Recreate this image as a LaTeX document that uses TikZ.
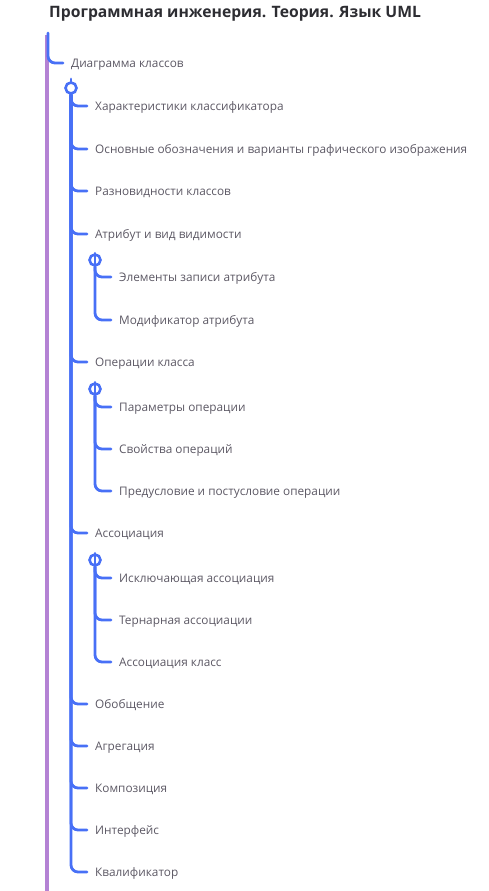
\documentclass[tikz,border=0pt]{standalone}
\usepackage{fontspec}
\setmainfont{Open Sans}
\definecolor{mblue}{RGB}{72,112,246}
\definecolor{mpurple}{RGB}{180,130,212}
\definecolor{mtext}{RGB}{92,88,100}
\definecolor{mtitle}{RGB}{45,45,50}
\begin{document}
\begin{tikzpicture}[x=1pt,y=-1pt,
  lbl/.style={anchor=west,inner sep=0pt,yshift=-1.5pt,font=\fontsize{11.8}{12}\selectfont,text=mtext},
  ttl/.style={anchor=west,inner sep=0pt,font=\fontsize{15.7}{16}\selectfont\bfseries,text=mtitle},
  branch/.style={draw=mblue,line width=2.8pt,rounded corners=7pt,line cap=round},
  knob/.style={circle,draw=mblue,line width=2.6pt,fill=white,minimum size=11pt,inner sep=0pt}]
\useasboundingbox (0,0) rectangle (488,891);
\node[ttl] (title) at (49,14) {Программная инженерия. Теория. Язык UML};
% purple bar
\coordinate (bartop) at (47,35);
\coordinate (barbot) at (47,891);
\draw[mpurple,line width=3.2pt] (bartop) -- (barbot);
% root
\coordinate (rtop) at (48,33);
\node[lbl] (root) at (71,63) {Диаграмма классов};
\draw[branch] (rtop) |- ([xshift=-8pt,yshift=1.5pt]root.west);
% level 1
\node[knob] (k0) at (71,88) {};
\coordinate (k0s) at (71,79);
\draw[branch] (k0s) -- (k0.north);
\node[lbl] (a1) at (95,106) {Характеристики классификатора};
\node[lbl] (a2) at (95,149) {Основные обозначения и варианты графического изображения};
\node[lbl] (a3) at (95,191) {Разновидности классов};
\node[lbl] (a4) at (95,234) {Атрибут и вид видимости};
\node[lbl] (a5) at (95,362) {Операции класса};
\node[lbl] (a6) at (95,533) {Ассоциация};
\node[lbl] (a7) at (95,704) {Обобщение};
\node[lbl] (a8) at (95,746) {Агрегация};
\node[lbl] (a9) at (95,788) {Композиция};
\node[lbl] (a10) at (95,830) {Интерфейс};
\node[lbl] (a11) at (95,872) {Квалификатор};
\foreach \n in {a1,a2,a3,a4,a5,a6,a7,a8,a9,a10,a11}
  \draw[branch] (k0.south) |- ([xshift=-8pt,yshift=1.5pt]\n.west);
% level 2: attribute
\node[knob] (k1) at (95,260) {};
\draw[branch] ([yshift=-10pt]k1.center) -- (k1.north);
\node[lbl] (b1) at (119,277) {Элементы записи атрибута};
\node[lbl] (b2) at (119,320) {Модификатор атрибута};
\foreach \n in {b1,b2}
  \draw[branch] (k1.south) |- ([xshift=-8pt,yshift=1.5pt]\n.west);
% level 2: operations
\node[knob] (k2) at (95,389) {};
\draw[branch] ([yshift=-10pt]k2.center) -- (k2.north);
\node[lbl] (c1) at (119,407) {Параметры операции};
\node[lbl] (c2) at (119,449) {Свойства операций};
\node[lbl] (c3) at (119,491) {Предусловие и постусловие операции};
\foreach \n in {c1,c2,c3}
  \draw[branch] (k2.south) |- ([xshift=-8pt,yshift=1.5pt]\n.west);
% level 2: association
\node[knob] (k3) at (95,560) {};
\draw[branch] ([yshift=-10pt]k3.center) -- (k3.north);
\node[lbl] (d1) at (119,578) {Исключающая ассоциация};
\node[lbl] (d2) at (119,620) {Тернарная ассоциации};
\node[lbl] (d3) at (119,662) {Ассоциация класс};
\foreach \n in {d1,d2,d3}
  \draw[branch] (k3.south) |- ([xshift=-8pt,yshift=1.5pt]\n.west);
\end{tikzpicture}
\end{document}
